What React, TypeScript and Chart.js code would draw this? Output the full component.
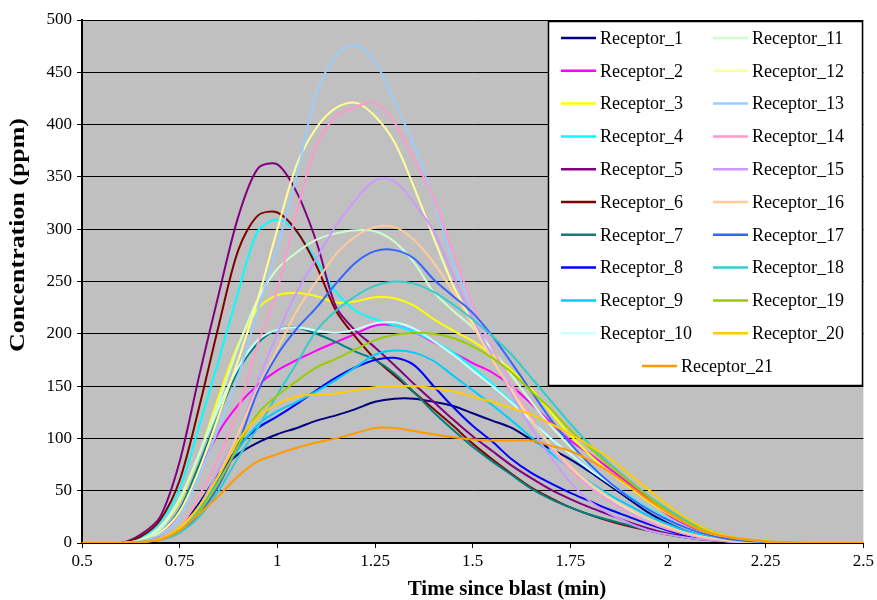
import React, { useEffect, useRef } from "react";
import { Chart, registerables } from "chart.js";

Chart.register(...registerables);

const FONT = '"Liberation Serif", "Times New Roman", serif';

const X_TITLE = "Time since blast (min)";
const Y_TITLE = "Concentration (ppm)";

const X_TICK_LABELS = ["0.5", "0.75", "1", "1.25", "1.5", "1.75", "2", "2.25", "2.5"];
const Y_TICK_LABELS = ["0", "50", "100", "150", "200", "250", "300", "350", "400", "450", "500"];

const TIME_MIN = [
  0.5, 0.55, 0.6, 0.65, 0.7, 0.75, 0.8, 0.85, 0.9, 0.95, 1.0, 1.05, 1.1, 1.15, 1.2, 1.25, 1.3, 1.35, 1.4, 1.45,
  1.5, 1.55, 1.6, 1.65, 1.7, 1.75, 1.8, 1.85, 1.9, 1.95, 2.0, 2.05, 2.1, 2.15, 2.2, 2.25, 2.3, 2.35, 2.4, 2.45, 2.5,
];

const SERIES_NAMES = [
  "Receptor_1", "Receptor_2", "Receptor_3", "Receptor_4", "Receptor_5", "Receptor_6", "Receptor_7",
  "Receptor_8", "Receptor_9", "Receptor_10", "Receptor_11", "Receptor_12", "Receptor_13", "Receptor_14",
  "Receptor_15", "Receptor_16", "Receptor_17", "Receptor_18", "Receptor_19", "Receptor_20", "Receptor_21",
];

const SERIES_COLORS = [
  "#000080", "#FF00FF", "#FFFF00", "#00FFFF", "#800080", "#800000", "#008080",
  "#0000FF", "#00CCFF", "#CCFFFF", "#CCFFCC", "#FFFF99", "#99CCFF", "#FF99CC",
  "#CC99FF", "#FFCC99", "#3366FF", "#33CCCC", "#99CC00", "#FFCC00", "#FF9900",
];

const R1 = [0,0,0,1,4,14,38,66,85,96,104,110,117,122,128,135,138,138,135,131,124,117,110,99,90,80,68,55,42,29,19,11,6,3,1.5,0.5,0,0,0,0,0];
const R2 = [0,0,0,1,8,30,68,106,132,151,165,175,184,192,200,208,208,202,192,182,172,163,150,133,115,98,85,71,57,42,27,17,10,5,2.5,1,0.5,0,0,0,0];
const R3 = [0,0,0,3,15,40,85,140,190,224,237,239,236,230,231,235,234,227,214,203,193,180,165,147,125,103,84,68,54,40,28,18,10,5,2.5,1,0.5,0,0,0,0];
const R4 = [0,0,0,5,20,52,112,175,240,298,309,297,270,240,222,214,208,202,193,182,168,152,135,118,100,85,70,57,45,33,23,14,8,4,2,1,0.5,0,0,0,0];
const R5 = [0,0,0,8,25,78,160,238,312,358,362,335,288,226,203,187,170,152,135,118,102,88,74,62,51,42,34,27,20,14,9,6,3,2,1,0.5,0,0,0,0,0];
const R6 = [0,0,0,6,22,60,130,208,280,313,316,298,265,222,197,176,160,144,128,112,95,80,66,53,43,34,27,21,16,12,8,5,3,2,1,0.5,0,0,0,0,0];
const R7 = [0,0,0,2,10,32,75,123,165,191,204,206,200,192,183,175,162,144,125,108,92,78,65,52,42,34,27,22,17,12,8,5,3,2,1,0.5,0,0,0,0,0];
const R8 = [0,0,0,1,4,12,32,62,92,110,121,133,146,158,168,175,177,170,150,130,112,97,80,67,57,48,40,32,25,18,12,7,4,2,1,0.5,0,0,0,0,0];
const R9 = [0,0,0,1,4,12,32,60,90,113,126,135,145,156,168,180,184,182,174,160,146,132,117,101,86,71,58,46,36,26,18,11,6,3,1.5,0.5,0,0,0,0,0];
const R10 = [0,0,0,3,15,42,85,130,168,194,204,206,203,201,204,210,211,205,193,180,165,150,134,117,100,85,70,57,44,32,22,14,8,4,2,1,0.5,0,0,0,0];
const R11 = [0,0,0,3,13,42,85,135,188,233,262,278,290,296,299,298,288,268,240,222,206,185,160,135,112,92,74,58,44,32,22,14,8,4,2,1,0.5,0,0,0,0];
const R12 = [0,0,0,2,10,30,70,122,175,233,300,362,397,416,421,408,383,340,292,246,210,176,145,117,92,72,56,43,32,23,15,9,5,2.5,1,0.5,0,0,0,0,0];
const R13 = [0,0,0,2,8,25,65,110,160,222,283,352,430,466,476,460,422,380,328,268,225,186,150,118,90,70,54,41,30,21,14,8,4.5,2,1,0.5,0,0,0,0,0];
const R14 = [0,0,0,1,4,15,45,82,128,190,242,318,380,408,417,421,402,367,330,278,228,188,152,120,92,70,53,40,29,20,13,8,4,2,1,0.5,0,0,0,0,0];
const R15 = [0,0,0,1,5,15,35,70,105,155,200,240,272,303,328,347,346,325,298,256,215,178,142,110,82,58,40,28,19,12,8,5,3,1.5,0.8,0.3,0,0,0,0,0];
const R16 = [0,0,0,1,4,14,35,65,105,148,185,222,250,276,293,302,302,290,268,240,208,176,146,118,93,73,57,44,33,23,15,9,5,2.5,1,0.5,0,0,0,0,0];
const R17 = [0,0,0,1,3,10,28,55,95,145,180,205,225,248,268,279,280,272,252,236,220,198,172,145,118,95,75,58,44,32,22,14,8,4,2,1,0.5,0,0,0,0];
const R18 = [0,0,0,1,3,10,25,50,82,110,142,172,203,222,236,246,250,248,240,228,214,198,180,158,136,114,94,76,60,45,32,21,13,7,3.5,1.5,0.5,0,0,0,0];
const R19 = [0,0,0,1,4,12,30,58,93,124,141,155,168,176,185,194,199,201,200,196,188,177,163,145,128,108,91,74,59,44,30,19,11,6,3,1.5,0.5,0,0,0,0];
const R20 = [0,0,0,1,4,15,35,64,98,120,133,140,142,143,146,149,150,150,148,145,140,135,129,123,114,104,93,81,66,51,36,23,13,7,3.5,1.5,0.5,0,0,0,0];
const R21 = [0,0,0,1,3,12,28,45,64,78,85,91,96,100,105,110,110,107,104,101,99,98,98,98,93,88,79,68,55,41,29,18,10,6,3.5,1.5,0.5,0,0,0,0];

const SERIES_VALUES = [R1, R2, R3, R4, R5, R6, R7, R8, R9, R10, R11, R12, R13, R14, R15, R16, R17, R18, R19, R20, R21];

const plotBackground = {
  id: "plotBackground",
  beforeDraw(chart: any) {
    const { ctx, chartArea: a } = chart;
    ctx.save();
    ctx.fillStyle = "#FFFFFF";
    ctx.fillRect(0, 0, chart.width, chart.height);
    ctx.fillStyle = "#C0C0C0";
    ctx.fillRect(a.left, a.top, a.right - a.left, a.bottom - a.top);
    ctx.restore();
  },
};

const boxLegend = {
  id: "boxLegend",
  afterDatasetsDraw(chart: any) {
    const ctx = chart.ctx;
    ctx.save();
    const bx = 548.5, by = 21.5, bw = 314, bh = 364;
    ctx.fillStyle = "#FFFFFF";
    ctx.fillRect(bx, by, bw, bh);
    ctx.strokeStyle = "#000000";
    ctx.lineWidth = 1.5;
    ctx.strokeRect(bx, by, bw, bh);
    ctx.font = `18px ${FONT}`;
    ctx.textBaseline = "middle";
    ctx.textAlign = "left";
    chart.data.datasets.forEach((ds: any, i: number) => {
      let lx: number, ly: number;
      if (i < 10) { lx = 561; ly = 38 + i * 32.8; }
      else if (i < 20) { lx = 713; ly = 38 + (i - 10) * 32.8; }
      else { lx = 642; ly = 38 + 10 * 32.8; }
      ctx.strokeStyle = ds.borderColor;
      ctx.lineWidth = 2.5;
      ctx.beginPath();
      ctx.moveTo(lx, ly);
      ctx.lineTo(lx + 35, ly);
      ctx.stroke();
      ctx.fillStyle = "#000000";
      ctx.fillText(ds.label, lx + 39, ly + 1);
    });
    ctx.restore();
  },
};

const axisTitles = {
  id: "axisTitles",
  afterDraw(chart: any) {
    const ctx = chart.ctx;
    ctx.save();
    ctx.fillStyle = "#000000";
    ctx.font = `bold 21px ${FONT}`;
    ctx.textAlign = "center";
    ctx.textBaseline = "middle";
    ctx.fillText(X_TITLE, 507, 590);
    const w = ctx.measureText(Y_TITLE).width;
    ctx.translate(19, 235);
    ctx.rotate(-Math.PI / 2);
    ctx.scale(234 / w, 1);
    ctx.fillText(Y_TITLE, 0, 0);
    ctx.restore();
  },
};

export default function App() {
  const canvasRef = useRef<HTMLCanvasElement | null>(null);

  useEffect(() => {
    document.body.style.margin = "0";
    const canvas = canvasRef.current;
    if (!canvas) return;
    const chart = new Chart(canvas, {
      type: "line",
      data: {
        datasets: SERIES_VALUES.map((vals, i) => ({
          label: SERIES_NAMES[i],
          data: TIME_MIN.map((t, j) => ({ x: t, y: vals[j] })),
          borderColor: SERIES_COLORS[i],
          backgroundColor: SERIES_COLORS[i],
          borderWidth: 2,
          pointRadius: 0,
          pointHoverRadius: 0,
          tension: 0.3,
          fill: false,
          order: 21 - i,
        })),
      },
      options: {
        responsive: false,
        animation: false,
        devicePixelRatio: 1,
        layout: { padding: { left: 0, right: 12, top: 20, bottom: 0 } },
        plugins: {
          legend: { display: false },
          tooltip: { enabled: false },
          title: { display: false },
        },
        scales: {
          x: {
            type: "linear",
            min: 0.5,
            max: 2.5,
            afterBuildTicks: (s: any) => {
              s.ticks = X_TICK_LABELS.map((l) => ({ value: parseFloat(l) }));
            },
            afterFit: (s: any) => {
              s.height = 57;
            },
            ticks: {
              callback: (_v: any, i: number) => X_TICK_LABELS[i],
              font: { family: FONT, size: 17 },
              color: "#000000",
              padding: 3,
              maxRotation: 0,
              autoSkip: false,
            },
            grid: {
              display: true,
              drawOnChartArea: false,
              drawTicks: true,
              tickLength: 5,
              color: "#000000",
              lineWidth: 1,
            },
            border: { display: true, color: "#000000", width: 2 },
          },
          y: {
            type: "linear",
            min: 0,
            max: 500,
            afterBuildTicks: (s: any) => {
              s.ticks = Y_TICK_LABELS.map((l) => ({ value: parseFloat(l) }));
            },
            afterFit: (s: any) => {
              s.width = 82;
            },
            ticks: {
              callback: (_v: any, i: number) => Y_TICK_LABELS[i],
              font: { family: FONT, size: 17 },
              color: "#000000",
              padding: 5,
              autoSkip: false,
            },
            grid: {
              color: "#000000",
              lineWidth: 1,
              drawTicks: true,
              tickLength: 5,
            },
            border: { display: true, color: "#000000", width: 2 },
          },
        },
      } as any,
      plugins: [plotBackground, boxLegend, axisTitles],
    });
    return () => chart.destroy();
  }, []);

  return (
    <div style={{ width: 877, height: 600 }}>
      <canvas ref={canvasRef} width={877} height={600} style={{ display: "block" }} />
    </div>
  );
}
